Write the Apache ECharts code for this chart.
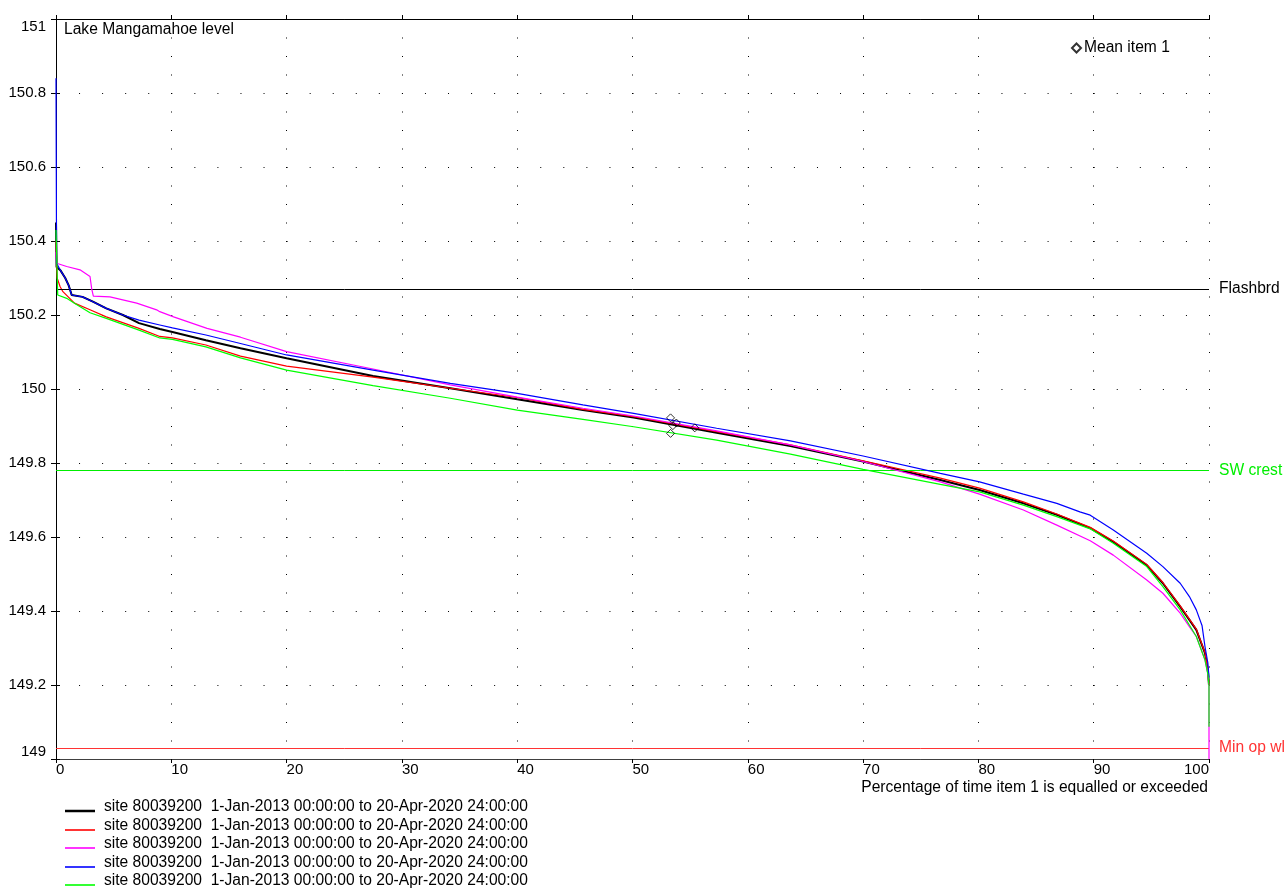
<!DOCTYPE html>
<html>
<head>
<meta charset="utf-8">
<script src="https://cdn.jsdelivr.net/npm/echarts@6/dist/echarts.min.js"></script>
<style>
html,body{margin:0;padding:0;background:#fff;}
#chart{width:1286px;height:888px;}
</style>
</head>
<body>
<div id="chart"></div>
<script>
// ---- data (percentage of time exceeded, lake level) ----
const titleText = 'Lake Mangamahoe level';
const xAxisName = 'Percentage of time item 1 is equalled or exceeded';
const seriesLabel = 'site 80039200  1-Jan-2013 00:00:00 to 20-Apr-2020 24:00:00';
const seriesColors = ['#000000', '#ff0000', '#ff00ff', '#0000ff', '#00ff00'];

const curveBlack = [[0,150.45],[0.05,150.33],[0.4,150.32],[0.8,150.30],[1.1,150.28],[1.36,150.254],[2.3,150.249],[3.2,150.236],[4.36,150.218],[5.8,150.20],[7.2,150.178],[9.0,150.162],[10.1,150.154],[13.0,150.132],[16.0,150.11],[20.0,150.083],[27.5,150.035],[34.2,150.002],[40,149.972],[45.7,149.943],[50.1,149.923],[57.3,149.882],[63.7,149.846],[70,149.804],[76.7,149.754],[80.1,149.727],[83.9,149.691],[86.8,149.660],[89.7,149.624],[91.7,149.587],[94.6,149.524],[96.0,149.475],[97.5,149.412],[98.3,149.376],[98.9,149.349],[99.65,149.286],[99.9,149.24],[100,149.2]];
const curveRed = [[0,150.40],[0.1,150.30],[0.35,150.277],[0.6,150.263],[1.6,150.232],[2.95,150.214],[4.36,150.195],[7.2,150.164],[9.0,150.142],[10.1,150.138],[13.0,150.119],[16.0,150.089],[20,150.062],[27.5,150.032],[34.2,150.002],[40,149.977],[45.7,149.945],[50.1,149.925],[57.3,149.885],[63.7,149.849],[70,149.806],[76.7,149.759],[80.1,149.732],[83.9,149.695],[86.8,149.662],[89.7,149.626],[91.7,149.589],[94.6,149.526],[96.0,149.477],[97.5,149.414],[98.3,149.378],[98.9,149.351],[99.65,149.288],[99.9,149.24],[100,149.2]];
const curveMagenta = [[0,150.37],[0.05,150.34],[0.93,150.331],[2.08,150.322],[2.95,150.304],[3.1,150.27],[3.24,150.251],[4.68,150.249],[7.0,150.232],[8.73,150.214],[9.0,150.209],[10.2,150.195],[13.1,150.164],[16.0,150.14],[20,150.101],[27.5,150.054],[34.2,150.011],[40,149.978],[45.7,149.948],[50.1,149.927],[57.3,149.887],[63.7,149.849],[70,149.804],[76.7,149.749],[80.1,149.716],[83.9,149.673],[86.8,149.632],[89.7,149.590],[91.7,149.551],[94.6,149.484],[96.0,149.448],[97.5,149.394],[98.3,149.358],[98.9,149.331],[99.65,149.268],[99.9,149.23],[100,149.2],[100,149.0]];
const curveBlue = [[0,150.84],[0.05,150.34],[0.4,150.32],[0.8,150.30],[1.1,150.28],[1.36,150.254],[2.3,150.249],[3.2,150.236],[4.36,150.218],[5.8,150.20],[7.2,150.186],[9.0,150.173],[10.1,150.165],[13.0,150.146],[16.0,150.123],[20,150.092],[27.5,150.051],[34.2,150.015],[40,149.988],[45.7,149.957],[50.1,149.934],[57.3,149.894],[63.7,149.860],[70,149.819],[76.7,149.772],[80.1,149.749],[83.9,149.716],[86.8,149.691],[88.8,149.668],[89.7,149.659],[91.7,149.619],[94.6,149.556],[96.0,149.520],[97.5,149.475],[98.3,149.439],[98.9,149.403],[99.4,149.36],[99.65,149.304],[99.9,149.26],[100,149.22]];
const curveGreen = [[0,150.43],[0.15,150.254],[0.93,150.245],[1.6,150.232],[2.95,150.206],[4.36,150.191],[7.2,150.159],[9.0,150.138],[10.1,150.134],[13.0,150.114],[16.0,150.084],[20,150.051],[27.5,150.009],[34.2,149.975],[40,149.943],[45.7,149.918],[50.1,149.898],[57.3,149.862],[63.7,149.824],[70,149.783],[76.7,149.742],[80.1,149.722],[83.9,149.686],[86.8,149.655],[89.7,149.622],[91.7,149.583],[94.6,149.520],[96.0,149.466],[97.5,149.403],[98.3,149.362],[98.9,149.331],[99.65,149.268],[99.9,149.23],[100,149.2],[100,149.087]];

const meanPoints = [[53.3,149.922],[53.8,149.908],[53.5,149.901],[55.4,149.895],[53.3,149.880]];
const meanLabel = 'Mean item 1';

const refLevels = [150.27, 149.78, 149.03];
const refNames = ['Flashbrd', 'SW crest', 'Min op wl'];
const refColors = ['#000000', '#00ee00', '#ff3333'];

const xTicks = {min: 0, max: 100, interval: 10};
const yTicks = {min: 149, max: 151, interval: 0.2};

// ---- chart ----
const FONT = 'Liberation Sans, Arial, sans-serif';
const BIG = 15.6;
const chart = echarts.init(document.getElementById('chart'), null, {renderer: 'canvas'});
const curves = [curveBlack, curveRed, curveMagenta, curveBlue, curveGreen];

const lineSeries = curves.map((d, i) => ({
  type: 'line',
  name: 'c' + i,
  data: d,
  xAxisIndex: 0, yAxisIndex: 0,
  showSymbol: false,
  symbol: 'none',
  lineStyle: {color: seriesColors[i], width: i === 0 ? 2 : 1.2},
  itemStyle: {color: seriesColors[i]},
  z: 3 + i,
  silent: true
}));

const legendGraphics = [];
seriesColors.forEach((c, i) => {
  const cy = 807 + i * 18.5;
  const ly = Math.round(cy + 4);
  legendGraphics.push({
    type: 'line', shape: {x1: 65, y1: ly, x2: 95, y2: ly},
    style: {stroke: c, lineWidth: i === 0 ? 2.5 : 1.6}
  });
  legendGraphics.push({
    type: 'text', x: 104, y: cy,
    style: {text: seriesLabel, font: BIG + 'px ' + FONT, fill: '#000', textVerticalAlign: 'middle'}
  });
});
legendGraphics.push({
  type: 'text', x: 1208, y: 788,
  style: {text: xAxisName, font: BIG + 'px ' + FONT, fill: '#000', textAlign: 'right', textVerticalAlign: 'middle'}
});

const option = {
  animation: false,
  backgroundColor: '#ffffff',
  textStyle: {fontFamily: FONT},
  title: {
    text: titleText, left: 64, top: 22, padding: 0,
    textStyle: {fontSize: BIG, fontWeight: 'normal', color: '#000', fontFamily: FONT}
  },
  legend: {
    data: [meanLabel], left: 1071, top: 40, padding: 0,
    itemWidth: 9, itemHeight: 9, itemGap: 4,
    textStyle: {fontSize: BIG, color: '#000', fontFamily: FONT, padding: [0,0,0,-2]}
  },
  grid: {left: 56, top: 19, right: 77, bottom: 129, containLabel: false},
  xAxis: [{
    type: 'value', position: 'bottom', min: xTicks.min, max: xTicks.max, interval: xTicks.interval,
    axisLine: {show: true, lineStyle: {color: '#404040', width: 1}},
    axisTick: {show: true, inside: false, length: 4, lineStyle: {color: '#000'}},
    axisLabel: {show: true, fontSize: 15, color: '#000', margin: 3, align: 'left', alignMaxLabel: 'right', fontFamily: FONT},
    splitLine: {show: true, lineStyle: {color: '#000', width: 1, type: [1, 17.5]}}
  }, {
    type: 'value', position: 'top', min: xTicks.min, max: xTicks.max, interval: xTicks.interval,
    axisLine: {show: true, lineStyle: {color: '#000', width: 1}},
    axisTick: {show: true, inside: false, length: 4, lineStyle: {color: '#000'}},
    axisLabel: {show: false}, splitLine: {show: false}
  }],
  yAxis: [{
    type: 'value', position: 'left', min: yTicks.min, max: yTicks.max, interval: yTicks.interval,
    axisLine: {show: true, lineStyle: {color: '#808080', width: 1}},
    axisTick: {show: true, inside: false, length: 5, lineStyle: {color: '#000'}},
    axisLabel: {show: true, fontSize: 15, color: '#000', margin: 10, fontFamily: FONT,
      verticalAlignMaxLabel: 'top', verticalAlignMinLabel: 'bottom',
      formatter: v => String(Math.round(v * 10) / 10)},
    splitLine: {show: true, lineStyle: {color: '#000', width: 1, type: [1, 22.06]}}
  }, {
    type: 'value', position: 'right', min: yTicks.min, max: yTicks.max, interval: yTicks.interval,
    axisLine: {show: true, lineStyle: {color: '#000', width: 1}},
    axisTick: {show: true, inside: false, length: 4, lineStyle: {color: '#000'}},
    axisLabel: {show: false}, splitLine: {show: false}
  }],
  series: lineSeries.concat([{
    type: 'scatter', name: meanLabel, data: meanPoints,
    symbol: 'diamond', symbolSize: 8,
    itemStyle: {color: 'rgba(255,255,255,0)', borderColor: '#000', borderWidth: 1},
    z: 10, silent: true
  }, {
    type: 'line', name: 'refs', data: [], silent: true, z: 9,
    markLine: {
      silent: true, symbol: 'none', animation: false,
      data: refLevels.map((v, i) => ({
        yAxis: v, name: refNames[i],
        lineStyle: {color: refColors[i], width: 1, type: 'solid'},
        label: {show: true, position: 'end', distance: 10, formatter: refNames[i], color: refColors[i], fontSize: BIG, fontFamily: FONT}
      }))
    }
  }]),
  graphic: legendGraphics
};
chart.setOption(option);
</script>
</body>
</html>
